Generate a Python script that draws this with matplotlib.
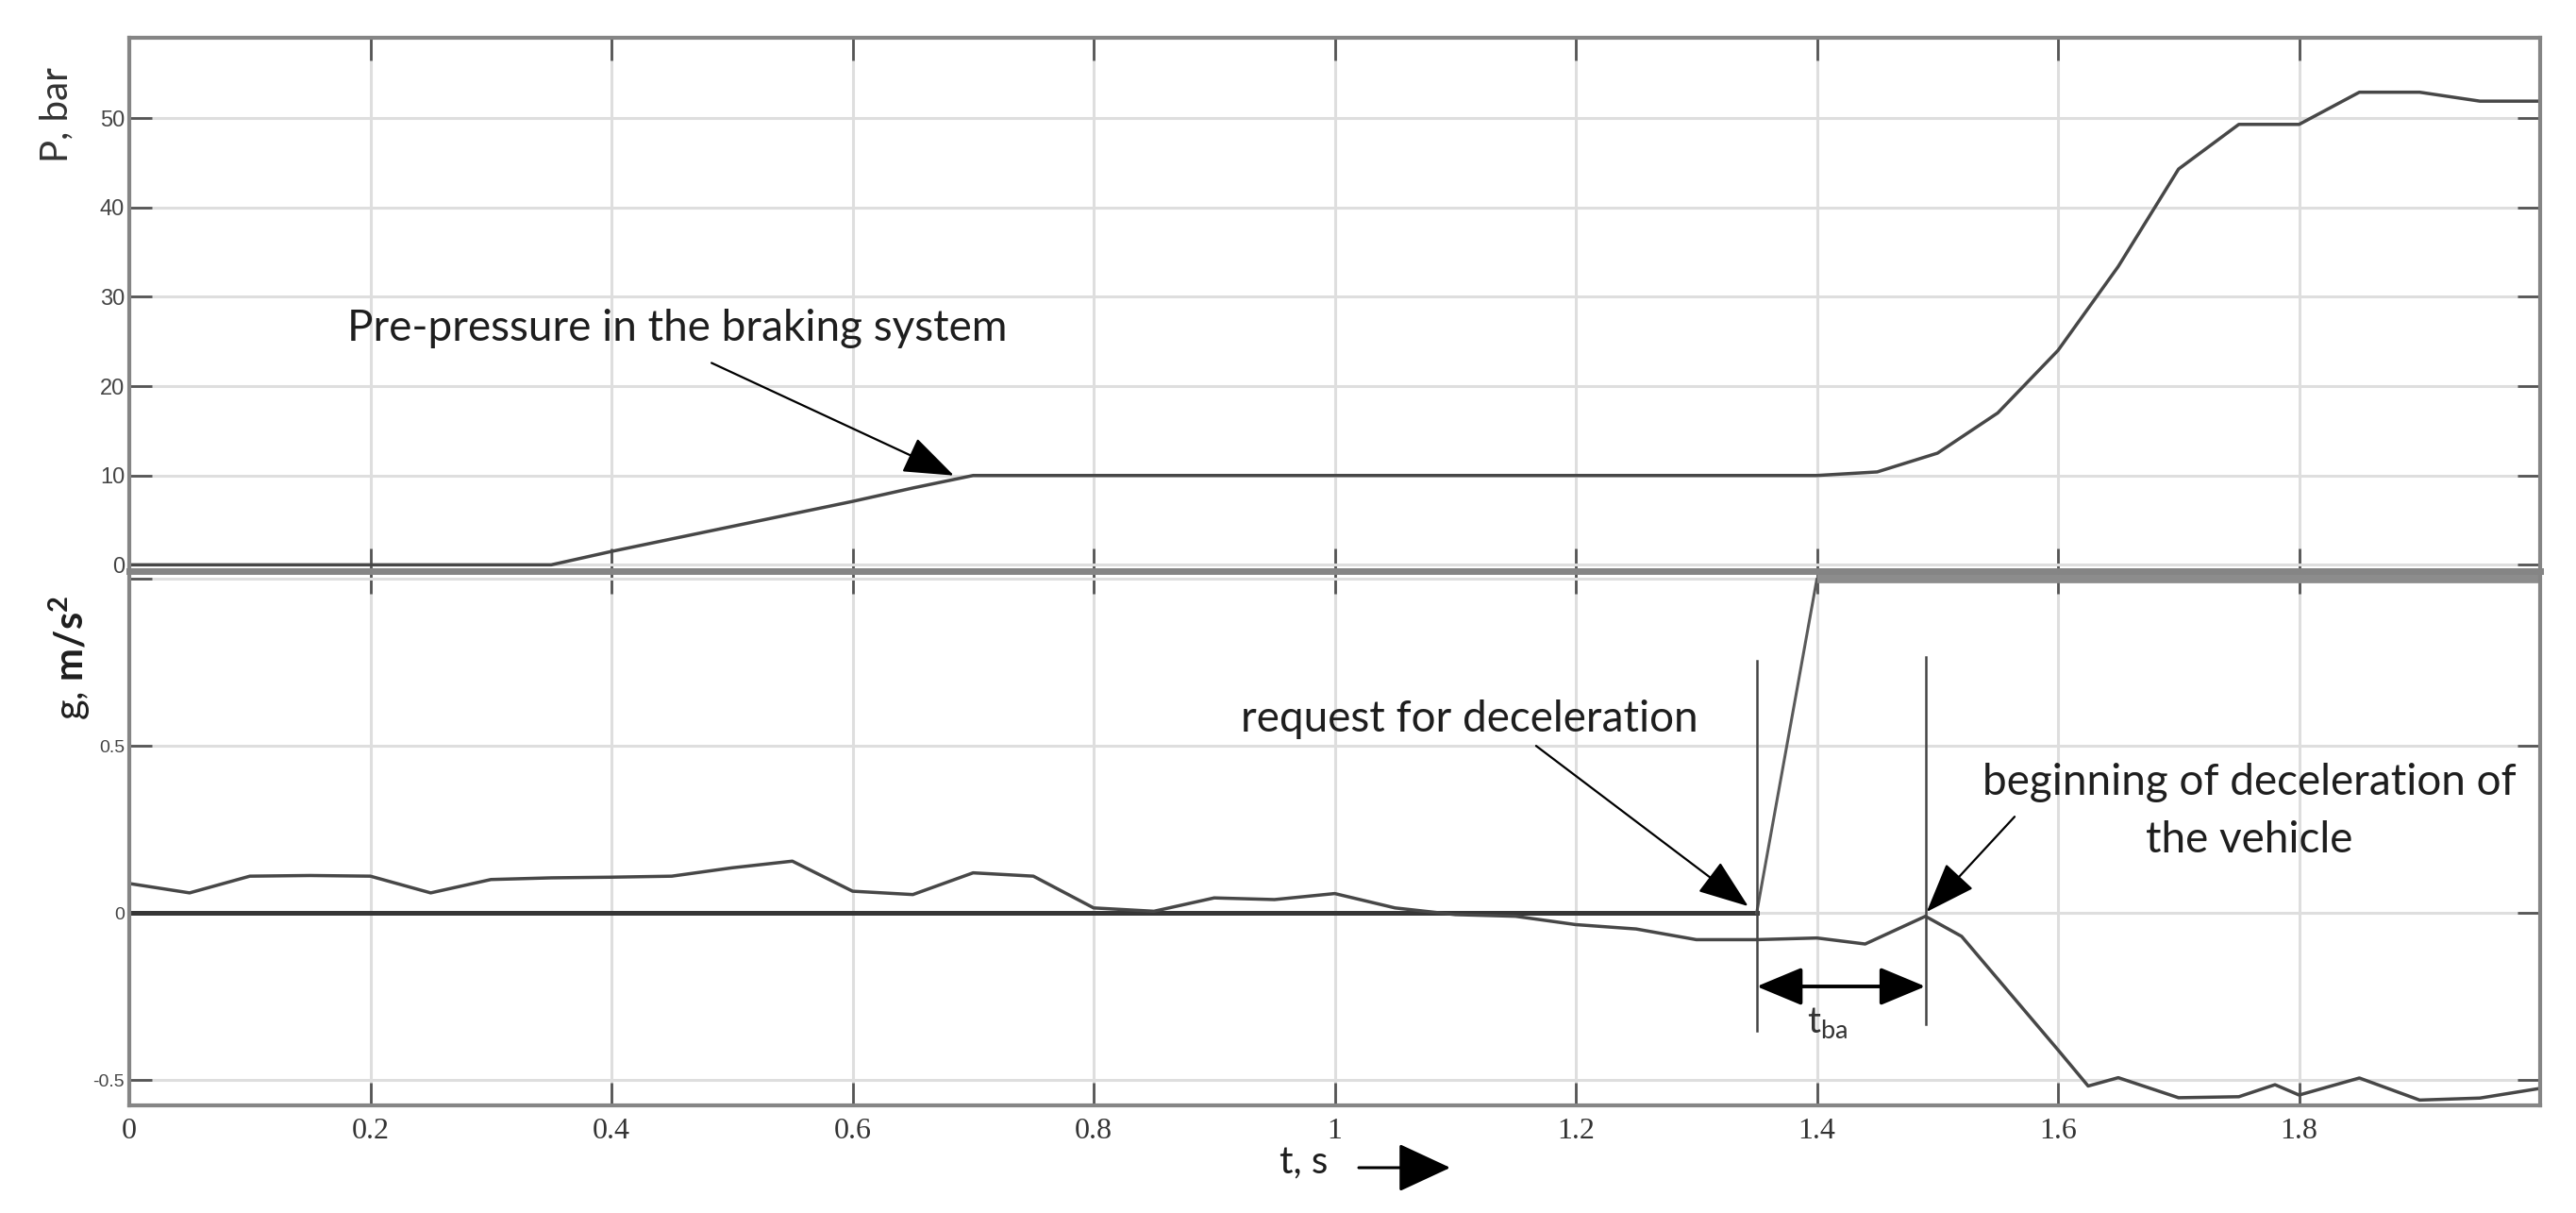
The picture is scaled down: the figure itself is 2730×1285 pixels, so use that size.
import matplotlib.pyplot as plt
from matplotlib.patches import FancyArrowPatch

plt.rcParams['font.family'] = ['Lato', 'DejaVu Sans']
plt.rcParams['mathtext.fontset'] = 'custom'
plt.rcParams['mathtext.rm'] = 'Lato'
plt.rcParams['mathtext.bf'] = 'Lato:bold'

# brake pressure, bar
t_p = [0, 0.35, 0.4, 0.45, 0.5, 0.55, 0.6, 0.65, 0.7, 1.4, 1.45, 1.5, 1.55,
       1.6, 1.65, 1.7, 1.75, 1.8, 1.85, 1.9, 1.95, 2.0]
p_bar = [0, 0, 1.5, 2.9, 4.3, 5.7, 7.1, 8.6, 10, 10, 10.4, 12.5, 17.0,
         24.0, 33.4, 44.3, 49.3, 49.3, 52.9, 52.9, 51.9, 51.9]

# measured deceleration, m/s^2
t_g = [0, 0.05, 0.1, 0.15, 0.2, 0.25, 0.3, 0.35, 0.4, 0.45, 0.5, 0.55, 0.6,
       0.65, 0.7, 0.75, 0.8, 0.85, 0.9, 0.95, 1.0, 1.05, 1.1, 1.15, 1.2,
       1.25, 1.3, 1.35, 1.4, 1.44, 1.49, 1.52, 1.6, 1.625, 1.65, 1.7, 1.75,
       1.78, 1.8, 1.85, 1.9, 1.95, 2.0]
g_ms2 = [0.088, 0.06, 0.11, 0.112, 0.11, 0.06, 0.10, 0.105, 0.107, 0.11,
         0.135, 0.155, 0.065, 0.055, 0.12, 0.11, 0.015, 0.005, 0.045, 0.04,
         0.058, 0.015, -0.005, -0.01, -0.035, -0.048, -0.08, -0.08, -0.075,
         -0.093, -0.01, -0.07, -0.41, -0.518, -0.493, -0.553, -0.55, -0.514,
         -0.545, -0.494, -0.56, -0.554, -0.525]

# deceleration request signal
t_req_low = [0, 1.35]
req_low = [0, 0]
t_req_high = [1.35, 1.4, 2.0]
req_high = [0, 1.0, 1.0]

t_request = 1.35
t_begin = 1.49

x_ticks = [0, 0.2, 0.4, 0.6, 0.8, 1.0, 1.2, 1.4, 1.6, 1.8]
x_labels = ['0', '0.2', '0.4', '0.6', '0.8', '1', '1.2', '1.4', '1.6', '1.8']
p_ticks = [0, 10, 20, 30, 40, 50]
g_ticks = [-0.5, 0, 0.5, 1.0]
g_labels = ['-0.5', '0', '0.5', '']

line_c = '#474747'
spine_c = '#858585'
grid_c = '#dedede'
text_c = '#1e1e1e'

fig = plt.figure(figsize=(27.3, 12.85), dpi=100)
ax1 = fig.add_axes([0.0502, 0.5292, 0.9359, 0.4397])
ax2 = fig.add_axes([0.0502, 0.0887, 0.9359, 0.4405])

for ax in (ax1, ax2):
    ax.set_xlim(0, 2.0)
    ax.set_xticks(x_ticks)
    ax.grid(True, color=grid_c, linewidth=2.2)
    ax.set_axisbelow(True)
    for s in ax.spines.values():
        s.set_color(spine_c)
        s.set_linewidth(3)
    ax.tick_params(direction='in', top=True, right=True, length=17, width=2,
                   color='#555555', labelcolor='#444444')
ax1.spines['bottom'].set_linewidth(5)
ax2.spines['top'].set_linewidth(5)

ax1.plot(t_p, p_bar, color=line_c, lw=2.5)
ax1.set_ylim(-0.7, 59)
ax1.set_yticks(p_ticks)
ax1.set_yticklabels([str(v) for v in p_ticks], fontfamily='Liberation Sans', fontsize=17)
ax1.tick_params(axis='x', labelbottom=False)

ax2.plot(t_req_low, req_low, color='#363636', lw=3.6)
ax2.plot(t_req_high, req_high, color='#5a5a5a', lw=2.2)
ax2.plot([1.4, 2.0], [1.0, 1.0], color='#8c8c8c', lw=7, solid_capstyle='butt')
ax2.plot(t_g, g_ms2, color=line_c, lw=2.5)
ax2.set_ylim(-0.576, 1.023)
ax2.set_yticks(g_ticks)
ax2.set_yticklabels(g_labels, fontfamily='Liberation Sans', fontsize=14)
ax2.set_xticklabels(x_labels, fontfamily='Liberation Serif', fontsize=23, color='#333333')
ax2.tick_params(axis='x', pad=9)

# axis labels
fig.text(60 / 2730, 1 - 122 / 1285, 'P, bar', rotation=90, ha='center', va='center',
         fontsize=29, color='#333333')
fig.text(74 / 2730, 1 - 697 / 1285, r'g, $\mathbf{m/s^2}$', rotation=90, ha='center',
         va='center', fontsize=30, color=text_c)
fig.text(1382 / 2730, 1 - 1232 / 1285, 't, s', ha='center', va='center', fontsize=29,
         color=text_c)
fig.patches.append(FancyArrowPatch(
    (1440 / 2730, 1 - 1237 / 1285), (1537 / 2730, 1 - 1237 / 1285),
    transform=fig.transFigure, arrowstyle='-|>,head_length=1.4,head_width=0.65',
    mutation_scale=25, color='black', lw=2.2, shrinkA=0, shrinkB=0))

arrow = dict(arrowstyle='-|>,head_length=1.35,head_width=0.5', mutation_scale=25,
             color='black', lw=1.6, shrinkA=0, shrinkB=0)

# upper annotation
ax1.text(0.181, 26.5, 'Pre-pressure in the braking system', ha='left', va='center',
         fontsize=33, color=text_c)
ax1.annotate('', xy=(0.684, 10.0), xytext=(0.483, 22.6), arrowprops=arrow)

# lower annotations
ax2.text(0.922, 0.58, 'request for deceleration', ha='left', va='center',
         fontsize=33, color=text_c)
ax2.annotate('', xy=(1.343, 0.02), xytext=(1.167, 0.50), arrowprops=arrow)
ax2.text(1.759, 0.39, 'beginning of deceleration of', ha='center', va='center',
         fontsize=33, color=text_c)
ax2.text(1.759, 0.218, 'the vehicle', ha='center', va='center',
         fontsize=33, color=text_c)
ax2.annotate('', xy=(1.491, 0.003), xytext=(1.564, 0.288), arrowprops=arrow)

ax2.plot([t_request, t_request], [-0.353, 0.755], color='#444444', lw=1.8)
ax2.plot([t_begin, t_begin], [-0.334, 0.767], color='#444444', lw=1.8)
ax2.annotate('', xy=(t_request, -0.22), xytext=(t_begin, -0.22),
             arrowprops=dict(arrowstyle='<|-|>,head_length=1.2,head_width=0.5',
                             mutation_scale=25, color='black', lw=2.8,
                             shrinkA=0, shrinkB=0))
ax2.text(1.409, -0.33, r'$\mathrm{t_{ba}}$', ha='center', va='center', fontsize=28,
         color='#333333')

fig.savefig('out.png', dpi=100)
